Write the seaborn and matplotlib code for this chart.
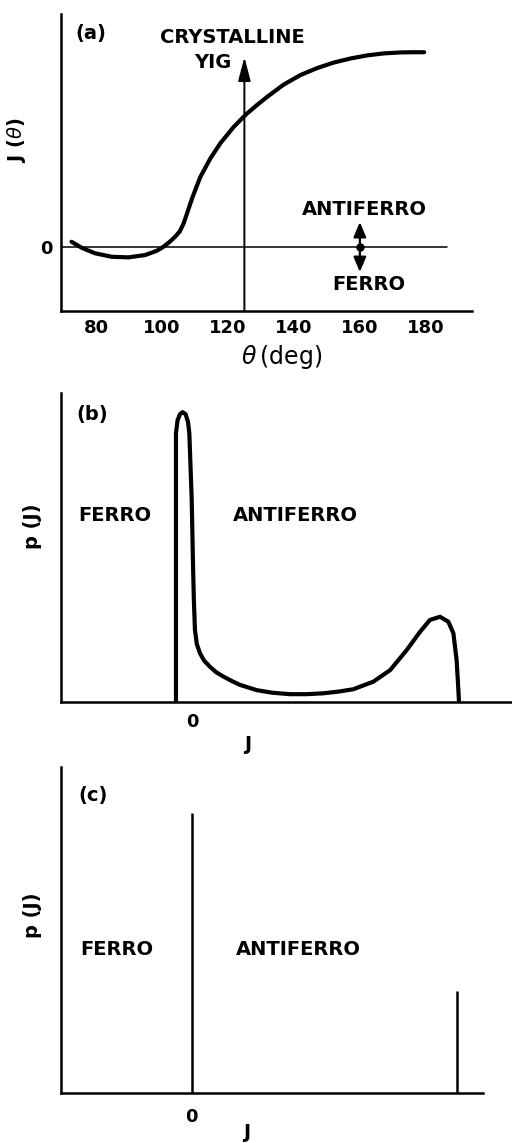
import numpy as np
import pandas as pd
import matplotlib
matplotlib.use("Agg")
import matplotlib.pyplot as plt
import seaborn as sns

# ---------------- data ----------------
# panel (a): exchange J(theta) vs bond angle theta (deg), arbitrary units
theta_a = [72.6, 75.7, 79.7, 84.8, 89.8, 94.9, 96.4, 98.6, 100.5, 102.3,
           104.0, 105.4, 106.5, 107.6, 109.1, 111.6, 114.7, 117.7, 121.7,
           125.6, 128.8, 131.9, 136.9, 142.0, 147.1, 152.1, 157.2, 162.3,
           167.3, 172.4, 176.0, 179.5]
J_a = [0.027, -0.004, -0.032, -0.050, -0.053, -0.041, -0.032, -0.018, 0.002,
       0.026, 0.053, 0.080, 0.118, 0.172, 0.248, 0.358, 0.455, 0.532, 0.615,
       0.682, 0.728, 0.770, 0.833, 0.882, 0.918, 0.946, 0.967, 0.983, 0.993,
       0.998, 0.999, 0.999]
a_xticks = [80, 100, 120, 140, 160, 180]
a_zero_line = [69.4, 186.4]          # extent of the J=0 reference line
yig_theta = 125.0                    # crystalline YIG bond angle
yig_arrow_top = 0.974
sign_arrow_theta = 160.0
sign_arrow_len = 0.128

# panel (b): broad distribution p(J)
J_b = [-0.060, -0.060, -0.060, -0.054, -0.045, -0.035, -0.024, -0.015, -0.010,
       -0.001, 0.004, 0.007, 0.011, 0.018, 0.030, 0.045, 0.067, 0.090, 0.117,
       0.150, 0.180, 0.242, 0.300, 0.367, 0.430, 0.492, 0.550, 0.604, 0.679,
       0.742, 0.804, 0.854, 0.891, 0.929, 0.960, 0.979, 0.991, 0.997, 1.000]
p_b = [0.000, 0.500, 0.928, 0.972, 0.993, 1.000, 0.993, 0.966, 0.928, 0.697,
       0.466, 0.352, 0.250, 0.200, 0.168, 0.143, 0.122, 0.103, 0.088, 0.072,
       0.059, 0.041, 0.032, 0.027, 0.027, 0.030, 0.036, 0.044, 0.070, 0.110,
       0.179, 0.242, 0.283, 0.294, 0.277, 0.237, 0.145, 0.053, 0.000]

# panel (c): two delta spikes
J_c = [0.0, 0.993]
p_c = [1.0, 0.364]

# ---------------- style ----------------
sns.set_style("white")
plt.rcParams['font.family'] = ['DejaVu Sans']
plt.rcParams['mathtext.fontset'] = 'dejavusans'
for key in ['text.color', 'axes.labelcolor', 'xtick.color', 'ytick.color',
            'axes.edgecolor']:
    plt.rcParams[key] = 'black'

W, H = 512, 1143
fig = plt.figure(figsize=(W / 100, H / 100), dpi=100)


def axes_px(left, right, top, bottom):
    return fig.add_axes([left / W, (H - bottom) / H, (right - left) / W, (bottom - top) / H])


def style_axes(ax):
    for s in ['top', 'right']:
        ax.spines[s].set_visible(False)
    for s in ['left', 'bottom']:
        ax.spines[s].set_linewidth(1.8)
        ax.spines[s].set_color('black')
    ax.set_facecolor('white')


TXT = dict(fontsize=14, fontweight='bold', color='black', ha='center', va='center')

# ---------------- panel (a) ----------------
axa = axes_px(61, 472, 14, 311)
style_axes(axa)
axa.set_xlim(69.4, 194.0)
axa.set_ylim(-0.328, 1.195)
axa.plot(a_zero_line, [0, 0], color='black', lw=1.1)
sns.lineplot(x=theta_a, y=J_a, sort=False, estimator=None, color='black', lw=3.0,
             ax=axa, solid_capstyle='round', solid_joinstyle='round')
axa.set_xticks(a_xticks)
axa.set_xticklabels([str(t) for t in a_xticks], fontsize=13, fontweight='bold')
axa.tick_params(axis='x', direction='in', length=8, width=1.5, pad=6)
axa.set_yticks([0])
axa.set_yticklabels(['0'], fontsize=13, fontweight='bold')
axa.tick_params(axis='y', length=0, pad=6)
axa.set_xlabel(r'$\theta\,$(deg)', fontsize=17, fontweight='normal', va='center')
axa.xaxis.set_label_coords((282 - 61) / 411, (311 - 357) / 297)
axa.set_ylabel(r'J ($\theta$)', fontsize=14, fontweight='bold', va='center')
axa.yaxis.set_label_coords((17 - 61) / 411, (311 - 140) / 297)

axa.annotate('', xy=(yig_theta, yig_arrow_top), xytext=(yig_theta, -0.328),
             arrowprops=dict(arrowstyle='-|>,head_length=1.45,head_width=0.38',
                             mutation_scale=10, lw=1.4, color='black',
                             shrinkA=0, shrinkB=0))
for sgn in (1, -1):
    axa.annotate('', xy=(sign_arrow_theta, sgn * sign_arrow_len), xytext=(sign_arrow_theta, 0),
                 arrowprops=dict(arrowstyle='-|>,head_length=0.9,head_width=0.38',
                                 mutation_scale=10, lw=1.6, color='black',
                                 shrinkA=0, shrinkB=0))
axa.plot([sign_arrow_theta], [0], marker='o', ms=5, color='black')
axa.text(78.5, 1.097, '(a)', **TXT)
axa.text(121.3, 1.077, 'CRYSTALLINE', **TXT)
axa.text(115.3, 0.944, 'YIG', **TXT)
axa.text(161.5, 0.190, 'ANTIFERRO', **TXT)
axa.text(162.7, -0.190, 'FERRO', **TXT)

# ---------------- panel (b) ----------------
axb = axes_px(61, 512, 393, 702)
style_axes(axb)
axb.set_xlim(-0.4906, 1.1985)
axb.set_ylim(0, 1.066)
sns.lineplot(x=J_b, y=p_b, sort=False, estimator=None, color='black', lw=3.0,
             ax=axb, solid_joinstyle='round')
axb.set_xticks([0])
axb.set_xticklabels(['0'], fontsize=13, fontweight='bold')
axb.tick_params(axis='x', direction='in', length=7, width=1.6, pad=8)
axb.set_yticks([])
axb.set_xlabel('J', fontsize=14, fontweight='bold', va='center')
axb.xaxis.set_label_coords((248 - 61) / 451, (702 - 745) / 309)
axb.set_ylabel('p (J)', fontsize=14, fontweight='bold', va='center')
axb.yaxis.set_label_coords((33 - 61) / 451, (702 - 526) / 309)
axb.text(-0.375, 0.993, '(b)', **TXT)
axb.text(-0.288, 0.645, 'FERRO', **TXT)
axb.text(0.388, 0.645, 'ANTIFERRO', **TXT)

# ---------------- panel (c) ----------------
axc = axes_px(61, 483, 767, 1093)
style_axes(axc)
axc.set_xlim(-0.4895, 1.091)
axc.set_ylim(0, 1.164)
axc.vlines(J_c, 0, p_c, color='black', lw=1.8)
axc.set_xticks([0])
axc.set_xticklabels(['0'], fontsize=13, fontweight='bold')
axc.tick_params(axis='x', length=0, pad=11)
axc.set_yticks([])
axc.set_xlabel('J', fontsize=14, fontweight='bold', va='center')
axc.xaxis.set_label_coords((247 - 61) / 422, (1093 - 1133) / 326)
axc.set_ylabel('p (J)', fontsize=14, fontweight='bold', va='center')
axc.yaxis.set_label_coords((33 - 61) / 422, (1093 - 915) / 326)
axc.text(-0.370, 1.064, '(c)', **TXT)
axc.text(-0.280, 0.511, 'FERRO', **TXT)
axc.text(0.398, 0.511, 'ANTIFERRO', **TXT)

fig.savefig('out.png', dpi=100, facecolor='white')
